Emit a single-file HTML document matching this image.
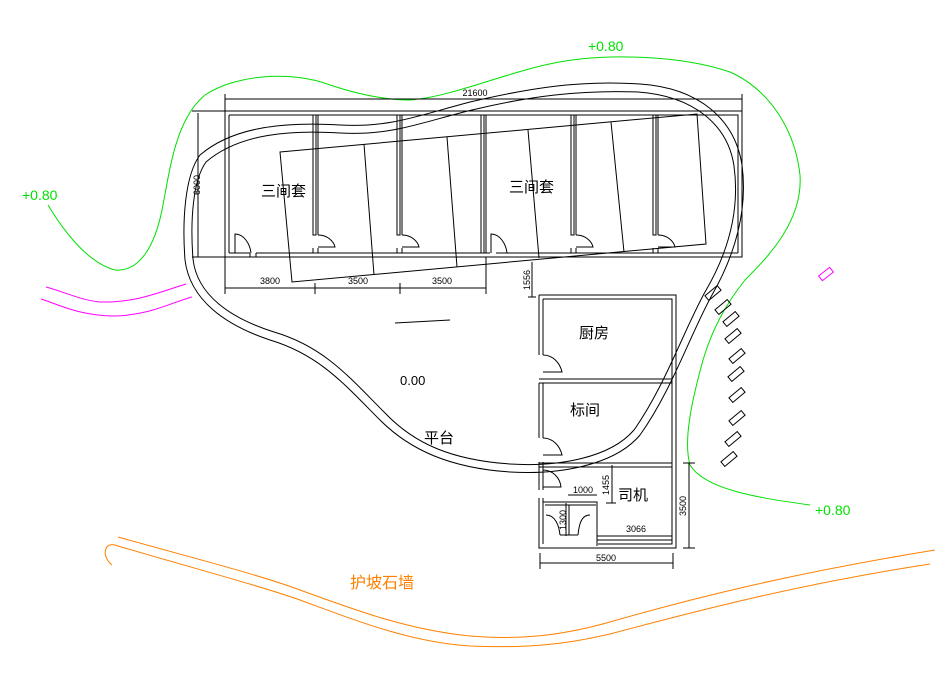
<!DOCTYPE html>
<html><head><meta charset="utf-8"><style>
html,body{margin:0;padding:0;background:#fff;}
svg{display:block;}
text{font-family:"Liberation Sans","Noto Sans CJK SC",sans-serif;}
</style></head><body>
<svg width="951" height="695" viewBox="0 0 951 695" xmlns="http://www.w3.org/2000/svg">
<g fill="none" stroke-width="1">
<!-- green contour -->
<path stroke="#00e000" d="M48,205 C60,225 85,262 115,270 C140,272 155,245 162,210 C170,170 175,120 205,95 C235,75 290,70 330,85 C360,95 385,100 410,100 C450,97 500,75 545,65 C600,52 680,55 730,72 C770,90 795,130 800,175 C803,220 770,255 745,280 C725,305 712,330 703,360 C692,400 683,440 690,465 C705,490 760,498 810,505"/>
<!-- magenta -->
<path stroke="#ff00ff" d="M46,287 C65,292 80,300 100,302 C135,303 160,292 186,284"/>
<path stroke="#ff00ff" d="M41,299 C60,305 80,316 115,316 C150,315 170,303 192,297"/>
<rect stroke="#ff00ff" x="-7" y="-3" width="14" height="6" transform="translate(826,274) rotate(-38)"/>
<!-- black double loop -->
<g stroke="#000">
<path d="M200,155 C235,125 290,122 340,125 C390,128 420,115 470,102 C530,88 580,80 640,84 C700,88 735,120 742,165 C748,210 735,255 712,295 C690,335 672,390 640,435 C615,465 560,475 510,472 C450,468 410,450 380,420 C345,385 320,355 270,340 C225,325 190,300 185,260 C182,220 185,175 200,155 Z"/>
<path d="M206,162 C240,133 292,130 340,133 C392,136 422,122 472,110 C530,96 580,90 638,92 C694,96 728,125 734,166 C740,210 728,253 705,292 C683,332 665,386 634,430 C610,458 558,467 510,464 C452,460 415,444 386,414 C350,378 325,347 274,332 C230,318 197,295 193,259 C190,220 193,180 206,162 Z"/>
</g>
<!-- slanted rectangles right -->
<g stroke="#000">
<rect x="-8" y="-3" width="16" height="6" transform="translate(713,293) rotate(-40)"/>
<rect x="-8" y="-3" width="16" height="6" transform="translate(723,307) rotate(-40)"/>
<rect x="-8" y="-3" width="16" height="6" transform="translate(731,319) rotate(-40)"/>
<rect x="-8" y="-3" width="16" height="6" transform="translate(733,336) rotate(-40)"/>
<rect x="-8" y="-3" width="16" height="6" transform="translate(737,356) rotate(-40)"/>
<rect x="-8" y="-3" width="16" height="6" transform="translate(736,374) rotate(-40)"/>
<rect x="-8" y="-3" width="16" height="6" transform="translate(737,395) rotate(-40)"/>
<rect x="-8" y="-3" width="16" height="6" transform="translate(737,418) rotate(-40)"/>
<rect x="-8" y="-3" width="16" height="6" transform="translate(733,439) rotate(-40)"/>
<rect x="-8" y="-3" width="16" height="6" transform="translate(729,459) rotate(-40)"/>
</g>
<!-- orange wall -->
<path stroke="#ff8000" d="M118,537 C200,560 260,575 300,590 C360,612 410,630 470,636 C520,640 560,636 610,622 C700,596 800,572 935,550"/>
<path stroke="#ff8000" d="M112,565 C100,555 105,540 118,546 C200,570 260,586 300,600 C360,622 410,642 470,646 C520,648 560,646 610,634 C700,610 800,584 930,564"/>
<!-- main building -->
<g stroke="#000">
<rect x="225" y="111" width="517" height="146"/>
<path d="M229,115 H738 V253 M229,115 V253"/>
<path d="M229,253 H250 M256,253 H490 M496,253 H738"/>
<path d="M225,257 H250 M256,257 V253 M250,257 V253 M256,257 H490 M496,257 H742"/>
<!-- partitions -->
<path d="M313,115 V235 H316 V115 M318,115 V235"/>
<path d="M397,115 V235 H400 V115 M402,115 V235"/>
<path d="M481,115 V253 M484,115 V253 M486,115 V253"/>
<path d="M571,115 V235 H574 V115 M576,115 V235"/>
<path d="M653,115 V235 H656 V115 M658,115 V235"/>
<path d="M313,248 V253 M318,248 V253 M397,248 V253 M402,248 V253 M571,248 V253 M576,248 V253 M653,248 V253 M658,248 V253"/>
<!-- doors -->
<path d="M318,235 C328,235 334,242 335,247 H318"/>
<path d="M402,235 C412,235 418,242 419,247 H402"/>
<path d="M576,235 C586,235 592,242 593,247 H576"/>
<path d="M658,235 C668,235 674,242 675,247 H658"/>
<path d="M235,253 V234 C244,234 250,244 251,253"/>
<path d="M491,253 V234 C500,234 506,244 507,253"/>
<!-- slanted roof outline -->
<path d="M280,152 L697,114 L706,244 L292,282 Z"/>
<path d="M364,144 L374,275 M447,137 L457,267 M528,130 L539,258 M611,122 L624,252"/>
<!-- dimensions -->
<path d="M225,99 H742 M225,94 V111 M742,94 V111"/>
<path d="M198,113 V257 M192,111 H225 M192,257 H225"/>
<path d="M225,288 H486 M225,257 V294 M315,283 V294 M400,283 V294 M486,257 V294"/>
<path d="M532,262 V297 M528,297 H536"/>
<path d="M395,323 L450,320"/>
</g>
<!-- annex -->
<g stroke="#000">
<path d="M539,295 H676 V548 H598"/>
<path d="M543,299 H672 V544 H598 M539,295 V355 M543,299 V355 M539,383 V438 M543,383 V438 M539,462 V490 M543,462 V490 M539,498 V548 H598 M543,498 V544"/>
<path d="M539,379 H672 M539,383 H672 M539,463 H672 M539,467 H672"/>
<path d="M543,355 C553,355 560,363 562,372 H543"/>
<path d="M543,438 C553,438 560,446 562,455 H543"/>
<path d="M543,470 C553,470 560,478 561,487 H543"/>
<path d="M543,502 H597 V546 M545,505 H596 M569,505 V535 M560,535 H578 M597,536 H672 M597,540 H672"/>
<path d="M546,515 C555,515 559,525 560,535 M590,515 C581,515 579,525 578,535"/>
<!-- annex dims -->
<path d="M689,463 V548 M683,463 H695 M683,548 H695"/>
<path d="M540,563 H673 M540,553 V569 M673,553 V569"/>
<path d="M612,465 V503 M606,503 H616"/>
<path d="M568,495 H597"/>
<path d="M566,503 V536"/>
</g>
</g>
<!-- text -->
<g font-size="9" fill="#000">
<text x="475" y="96" text-anchor="middle">21600</text>
<text x="270" y="284" text-anchor="middle">3800</text>
<text x="358" y="284" text-anchor="middle">3500</text>
<text x="442" y="284" text-anchor="middle">3500</text>
<text transform="translate(200,185) rotate(-90)" text-anchor="middle">6000</text>
<text transform="translate(530,280) rotate(-90)" text-anchor="middle">1556</text>
<text transform="translate(609,485) rotate(-90)" text-anchor="middle">1455</text>
<text transform="translate(686,506) rotate(-90)" text-anchor="middle">3500</text>
<text transform="translate(566,520) rotate(-90)" text-anchor="middle">1300</text>
<text x="583" y="493" text-anchor="middle">1000</text>
<text x="636" y="532" text-anchor="middle">3066</text>
<text x="606" y="561" text-anchor="middle">5500</text>
</g>
<g font-size="15" fill="#000">
<text x="261" y="196">三间套</text>
<text x="509" y="192">三间套</text>
<text x="579" y="338">厨房</text>
<text x="570" y="415">标间</text>
<text x="618" y="500">司机</text>
<text x="424" y="443">平台</text>
<text x="400" y="385" font-size="13">0.00</text>
</g>
<g font-size="14" fill="#00e000">
<text x="22" y="200">+0.80</text>
<text x="588" y="51">+0.80</text>
<text x="815" y="515">+0.80</text>
</g>
<text x="350" y="588" font-size="16" fill="#ff8000">护坡石墙</text>
</svg>
</body></html>
